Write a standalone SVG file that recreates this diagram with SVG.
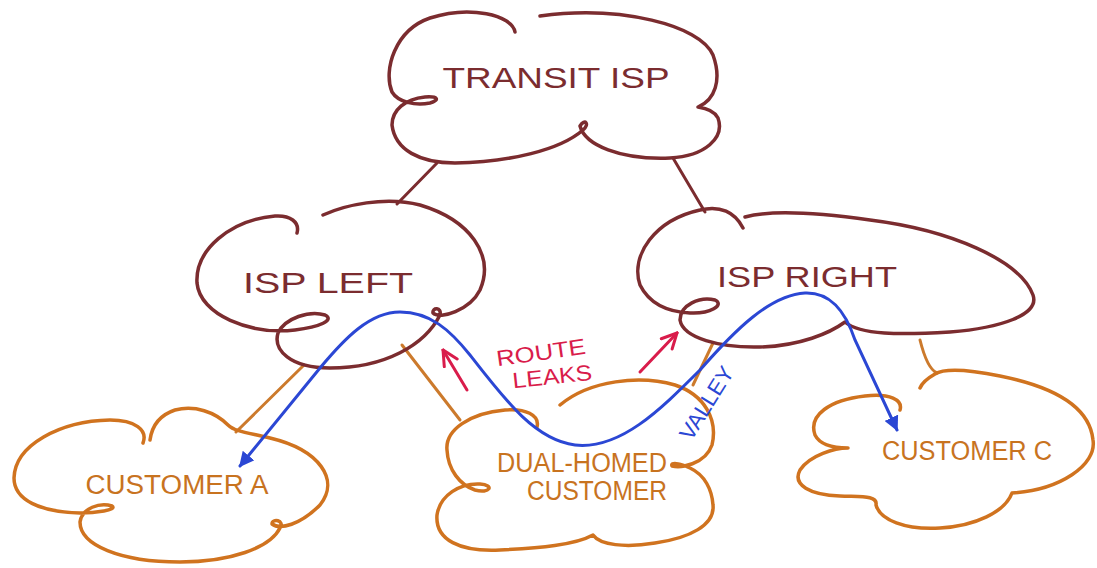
<svg xmlns="http://www.w3.org/2000/svg" width="1097" height="568" viewBox="0 0 1097 568">
<defs>
<style>
.cb{fill:none;stroke:#7b2c2f;stroke-width:3.5;stroke-linecap:round;stroke-linejoin:round}
.co{fill:none;stroke:#d0731f;stroke-width:3.5;stroke-linecap:round;stroke-linejoin:round}
.lb{fill:none;stroke:#7b2c2f;stroke-width:3;stroke-linecap:round}
.lo{fill:none;stroke:#cc7a2c;stroke-width:3;stroke-linecap:round}
.blue{fill:none;stroke:#2b47d4;stroke-width:3;stroke-linecap:round}
.red{fill:none;stroke:#d91c4b;stroke-width:3;stroke-linecap:round}
text{font-family:"Liberation Sans",Arial,sans-serif;text-anchor:middle}
.tb{fill:#7b2c2f;font-size:30px}
.to{fill:#c8731f;font-size:27px}
.tr{fill:#d91c4b;font-size:22px}
.tbl{fill:#2b47d4;font-size:22px}
</style>
<marker id="ab" viewBox="0 0 10 10" refX="9" refY="5" markerWidth="5" markerHeight="5" orient="auto-start-reverse" markerUnits="strokeWidth">
<path d="M0 0 L10 5 L0 10 Z" fill="#2b47d4"/>
</marker>
<marker id="ar" viewBox="0 0 12 12" refX="11" refY="6" markerWidth="6" markerHeight="6" orient="auto" markerUnits="strokeWidth">
<path d="M1 1 L11 6 L1 11" fill="none" stroke="#d91c4b" stroke-width="2" stroke-linecap="round"/>
</marker>
</defs>
<rect width="1097" height="568" fill="#ffffff"/>

<g id="connectors">
<path class="lb" d="M 437 163 L 397 204"/>
<path class="lb" d="M 673 158 L 705 212"/>
<path class="lo" d="M 304 365 L 236 432"/>
<path class="lo" d="M 402 345 L 460 420"/>
<path class="lo" d="M 713 343 L 693 385"/>
<path class="lo" d="M 920 340 C 925 360, 930 370, 937 373"/>
</g>

<g id="transit-isp">
<path class="cb" d="M 515 32 C 512 15, 470 5, 430 18 C 395 30, 383 70, 392 92 C 398 102, 415 106, 430 103 C 440 100, 438 96, 425 97 C 405 99, 392 110, 392 125 C 395 150, 420 163, 455 163 C 510 162, 560 150, 583 130 C 590 124, 585 118, 580 126 C 585 145, 620 160, 670 158 C 705 156, 725 138, 718 118 C 714 110, 705 108, 698 107 C 715 100, 722 80, 713 55 C 700 25, 620 5, 540 16"/>
<text class="tb" x="556" y="88" textLength="227" lengthAdjust="spacingAndGlyphs">TRANSIT ISP</text>
</g>

<g id="isp-left">
<path class="cb" d="M 297 233 C 300 222, 290 215, 275 216 C 230 220, 195 250, 197 283 C 200 315, 250 335, 295 330 C 320 327, 335 320, 325 315 C 310 310, 285 318, 278 333 C 273 350, 290 368, 330 368 C 385 368, 425 345, 440 315 C 442 307, 432 307, 433 313 C 440 320, 470 310, 480 290 C 495 255, 470 220, 420 205 C 385 196, 345 205, 323 215"/>
<text class="tb" x="328" y="293" textLength="170" lengthAdjust="spacingAndGlyphs">ISP LEFT</text>
</g>

<g id="isp-right">
<path class="cb" d="M 743 228 C 735 212, 720 205, 700 210 C 655 220, 630 255, 640 285 C 650 305, 670 312, 690 313 C 710 314, 725 305, 715 300 C 700 296, 680 305, 680 320 C 683 338, 720 348, 760 347 C 800 346, 830 333, 845 322 C 860 335, 900 335, 950 332 C 1000 328, 1040 315, 1033 295 C 1020 260, 950 230, 870 220 C 820 213, 770 210, 745 217"/>
<text class="tb" x="807" y="287" textLength="180" lengthAdjust="spacingAndGlyphs">ISP RIGHT</text>
</g>

<g id="customer-a">
<path class="co" d="M 143 443 C 148 430, 135 420, 110 420 C 60 421, 15 445, 14 478 C 14 500, 40 512, 80 513 C 95 513, 118 510, 112 506 C 100 502, 82 508, 80 522 C 80 545, 120 562, 180 562 C 230 562, 270 548, 280 528 C 285 520, 272 518, 272 524 C 280 530, 300 525, 320 505 C 340 480, 320 450, 270 438 C 250 433, 235 432, 228 425 C 215 412, 195 405, 175 410 C 160 415, 152 425, 150 440"/>
<text class="to" x="177" y="494" textLength="183" lengthAdjust="spacingAndGlyphs">CUSTOMER A</text>
</g>

<g id="dual-homed-customer">
<path class="co" d="M 537 427 C 540 415, 525 408, 505 410 C 470 413, 445 430, 447 450 C 448 470, 460 485, 475 490 C 490 494, 495 485, 480 484 C 460 483, 440 495, 437 515 C 435 540, 460 552, 500 550 C 540 548, 575 545, 593 535 C 600 545, 625 548, 655 543 C 690 538, 715 525, 713 505 C 712 490, 705 475, 690 468 C 680 463, 670 462, 672 466 C 680 468, 705 465, 712 445 C 718 420, 705 395, 675 385 C 640 375, 590 380, 560 405"/>
<text class="to" x="582" y="472" font-size="23" textLength="170" lengthAdjust="spacingAndGlyphs">DUAL-HOMED</text>
<text class="to" x="597" y="500" font-size="23" textLength="140" lengthAdjust="spacingAndGlyphs">CUSTOMER</text>
</g>

<g id="customer-c">
<path class="co" d="M 900 410 C 903 400, 890 393, 865 396 C 830 400, 808 415, 815 435 C 820 445, 835 448, 848 448 C 835 448, 810 455, 800 470 C 792 485, 810 495, 840 496 C 860 497, 878 495, 876 505 C 880 520, 905 530, 940 528 C 975 526, 1005 512, 1012 493 C 1060 490, 1097 465, 1093 440 C 1090 410, 1060 388, 1000 376 C 970 370, 945 368, 935 374 C 928 378, 922 383, 920 388"/>
<text class="to" x="967" y="460" textLength="170" lengthAdjust="spacingAndGlyphs">CUSTOMER C</text>
</g>

<g id="valley-path">
<path class="blue" marker-start="url(#ab)" marker-end="url(#ab)" d="M 240 466 L 320 368 C 345 338, 370 312, 400 312 C 430 312, 450 330, 470 355 C 505 400, 535 440, 575 445 C 620 450, 660 410, 700 370 C 735 330, 770 295, 805 293 C 830 292, 845 310, 855 340 L 897 430"/>
<text class="tbl" transform="translate(713,407) rotate(-58)" textLength="82" lengthAdjust="spacingAndGlyphs">VALLEY</text>
</g>

<g id="route-leaks">
<path class="red" marker-end="url(#ar)" d="M 467 390 L 443 350"/>
<path class="red" marker-end="url(#ar)" d="M 640 372 L 677 333"/>
<text class="tr" transform="translate(542,360) rotate(-8)" textLength="90" lengthAdjust="spacingAndGlyphs">ROUTE</text>
<text class="tr" transform="translate(553,384) rotate(-6)" textLength="80" lengthAdjust="spacingAndGlyphs">LEAKS</text>
</g>
</svg>
